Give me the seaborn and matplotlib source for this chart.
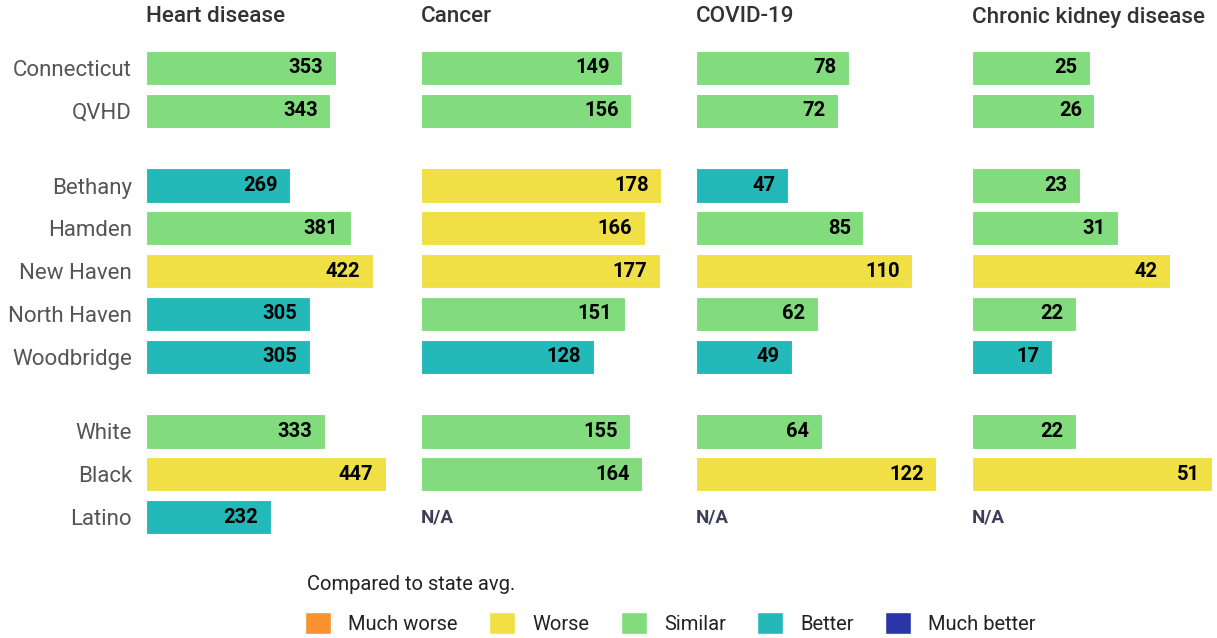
import pandas as pd
import matplotlib
matplotlib.use('Agg')
import matplotlib.pyplot as plt
import matplotlib.font_manager as fm
from matplotlib.patches import Patch
import seaborn as sns

# rows and groups
rows = ['Connecticut', 'QVHD', 'Bethany', 'Hamden', 'New Haven', 'North Haven',
        'Woodbridge', 'White', 'Black', 'Latino']
groups = [0, 0, 1, 1, 1, 1, 1, 2, 2, 2]

panels = ['Heart disease', 'Cancer', 'COVID-19', 'Chronic kidney disease']

heart = [353, 343, 269, 381, 422, 305, 305, 333, 447, 232]
heart_cat = ['Similar', 'Similar', 'Better', 'Similar', 'Worse', 'Better', 'Better',
             'Similar', 'Worse', 'Better']
cancer = [149, 156, 178, 166, 177, 151, 128, 155, 164, None]
cancer_cat = ['Similar', 'Similar', 'Worse', 'Worse', 'Worse', 'Similar', 'Better',
              'Similar', 'Similar', None]
covid = [78, 72, 47, 85, 110, 62, 49, 64, 122, None]
covid_cat = ['Similar', 'Similar', 'Better', 'Similar', 'Worse', 'Similar', 'Better',
             'Similar', 'Worse', None]
ckd = [25, 26, 23, 31, 42, 22, 17, 22, 51, None]
ckd_cat = ['Similar', 'Similar', 'Similar', 'Similar', 'Worse', 'Similar', 'Better',
           'Similar', 'Worse', None]

legend_cats = ['Much worse', 'Worse', 'Similar', 'Better', 'Much better']
palette = {'Much worse': '#F8922F', 'Worse': '#F0E046', 'Similar': '#82DC7E',
           'Better': '#23B9B9', 'Much better': '#2A35A8'}

values = [heart, cancer, covid, ckd]
cats = [heart_cat, cancer_cat, covid_cat, ckd_cat]

sns.set_style('white')

font = 'DejaVu Sans'
for f in ['Roboto', 'Liberation Sans']:
    try:
        fm.findfont(f, fallback_to_default=False)
        font = f
        break
    except Exception:
        pass
plt.rcParams['font.family'] = [font, 'DejaVu Sans']

# row positions with a gap between groups
pos = []
y = 0.0
for i, g in enumerate(groups):
    if i > 0:
        y += 1.0 if g == groups[i - 1] else 1.75
    pos.append(y)

W, H = 1217, 638
fig = plt.figure(figsize=(W / 100, H / 100), dpi=100)

lefts = [146, 421, 696, 972]
top_px, bot_px = 46.6, 538.4

for k, name in enumerate(panels):
    ax = fig.add_axes([lefts[k] / W, 1 - bot_px / H, 240 / W, (bot_px - top_px) / H])
    df = pd.DataFrame({'pos': pos, 'value': values[k], 'cat': cats[k]}).dropna()
    sns.barplot(data=df, x='value', y='pos', hue='cat', palette=palette, saturation=1,
                orient='y', native_scale=True, dodge=False, width=0.8,
                edgecolor='white', linewidth=0.8, legend=False, ax=ax)
    vmax = max(v for v in values[k] if v is not None)
    ax.set_xlim(0, vmax)
    ax.set_ylim(pos[-1] + 0.5, -0.5)
    for p, v in zip(pos, values[k]):
        if v is None:
            ax.text(0, p, 'N/A', ha='left', va='center', fontsize=13.5,
                    fontweight='bold', color='#3E3E56')
        else:
            ax.annotate(str(v), (v, p), xytext=(-9, 0), textcoords='offset points',
                        ha='right', va='center', fontsize=14.5, fontweight='bold',
                        color='black')
    ax.set_xlabel('')
    ax.set_ylabel('')
    ax.set_xticks([])
    if k == 0:
        ax.set_yticks(pos)
        ax.set_yticklabels(rows, fontsize=16, color='#555555')
        ax.tick_params(axis='y', length=0, pad=10)
    else:
        ax.set_yticks([])
    for s in ax.spines.values():
        s.set_visible(False)
    ax.text(0, 1.0 + (46.6 - 17) / (bot_px - top_px), name, transform=ax.transAxes,
            ha='left', va='center', fontsize=16.2, fontweight='medium', color='#333333')

fig.text(307 / W, 1 - 585 / H, 'Compared to state avg.', ha='left', va='center',
         fontsize=14.5, color='#222222')
handles = [Patch(facecolor=palette[c], edgecolor='white', label=c) for c in legend_cats]
leg = fig.legend(handles=handles, loc='center left', bbox_to_anchor=(305 / W, 1 - 623 / H),
                 ncol=5, frameon=False, fontsize=14.5, handlelength=1.3, handleheight=1.3,
                 handletextpad=0.85, columnspacing=1.55, borderpad=0, borderaxespad=0)
for t in leg.get_texts():
    t.set_color('#222222')

fig.savefig('out.png', dpi=100)
